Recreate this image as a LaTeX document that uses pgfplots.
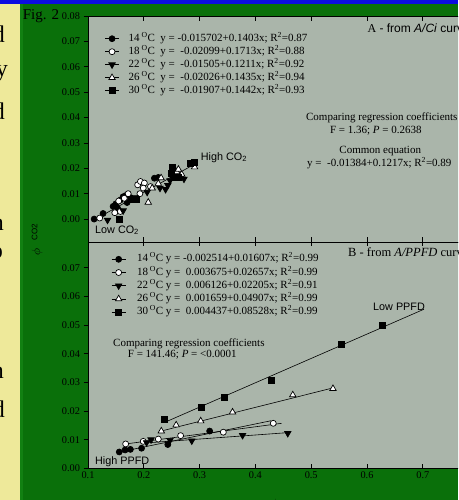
\documentclass[border=0pt]{standalone}
\usepackage{pgfplots}
\pgfplotsset{compat=1.18}
\usepackage{fontspec}
\setmainfont{Liberation Serif}
\setsansfont{Liberation Sans}
\definecolor{bggreen}{RGB}{10,112,10}
\definecolor{stripgreen}{RGB}{18,128,18}
\definecolor{paleyellow}{RGB}{238,233,154}
\definecolor{slideblue}{RGB}{12,12,225}
\definecolor{plotgray}{RGB}{170,181,170}
\pgfplotsset{
  panel/.style={
    scale only axis, width=390.6pt,
    xmin=0.1, xmax=0.8,
    xtick={0.1,0.2,0.3,0.4,0.5,0.6,0.7,0.8},
    scaled ticks=false,
    axis background/.style={fill=plotgray},
    axis line style={black, line width=0.7pt},
    every tick/.style={black, line width=0.7pt},
    major tick length=4.5pt,
    xtick align=inside, ytick align=outside,
    xtick pos=both, ytick pos=left,
    /pgf/number format/assume math mode=true,
    tick label style={font=\fontsize{10.3}{12}\selectfont},
    yticklabel style={/pgf/number format/fixed, /pgf/number format/fixed zerofill, /pgf/number format/precision=2},
    xticklabel style={/pgf/number format/fixed, /pgf/number format/precision=1},
    legend style={draw=none, fill=none, inner sep=0pt, outer sep=0pt,
      font=\fontsize{11}{13}\selectfont,
      nodes={inner sep=1pt, text height=7pt, text depth=2pt},
      row sep=2pt, column sep=8.3pt},
    legend cell align=left,
  },
  legmark/.style={only marks, line width=0.7pt,
    legend image code/.code={\path (0pt,0pt) -- (14pt,0pt); \draw[##1] plot coordinates {(7pt,0pt)};}},
  s14/.style={legmark, mark=*, mark size=3pt, draw=black, mark options={fill=black}},
  s18/.style={legmark, mark=*, mark size=3pt, draw=black, mark options={fill=white}},
  s22/.style={legmark, mark=triangle*, mark size=3.7pt, draw=black, mark options={rotate=180, fill=black}},
  s26/.style={legmark, mark=triangle*, mark size=3.7pt, draw=black, mark options={fill=white}},
  s30/.style={legmark, mark=square*, mark size=3pt, draw=black, mark options={fill=black}},
  rline/.style={black, line width=0.6pt, forget plot, no marks},
}
\begin{document}
\begin{tikzpicture}
\useasboundingbox (0,0) rectangle (458pt,-500pt);
\clip (0,0) rectangle (458pt,-500pt);
\fill[bggreen] (0,0) rectangle (458pt,-500pt);
\fill[stripgreen] (20pt,-4pt) rectangle (23pt,-500pt);
\fill[paleyellow] (0,-3pt) rectangle (20pt,-500pt);
\fill[slideblue] (0,0) rectangle (458pt,-4pt);
% slide text cut off on the left
\begin{scope}[every node/.style={anchor=base east, inner sep=0pt, font=\fontsize{24}{24}\selectfont}]
\node at (5pt,-43pt) {d};
\node at (8pt,-77pt) {y};
\node at (5pt,-120pt) {d};
\node at (4pt,-230pt) {n};
\node at (3pt,-258pt) {o};
\node at (4pt,-378pt) {n};
\node at (5pt,-417pt) {d};
\end{scope}

% ---------------- Panel A ----------------
\begin{axis}[panel, at={(88pt,-241.9pt)}, anchor=south west, height=225.9pt,
  ymin=-0.009, ymax=0.08,
  ytick={0,0.01,0.02,0.03,0.04,0.05,0.06,0.07,0.08},
  xticklabel=\empty,
  legend style={at={(0.04275,0.9239)}, anchor=north west}]
\addplot[rline] coordinates {(0.111,-0.0003) (0.295,0.0221)};
\addplot[s14] coordinates {(0.111,0.0000) (0.127,0.0022) (0.145,0.0050) (0.150,0.0060) (0.153,0.0043) (0.158,0.0075) (0.163,0.0088) (0.168,0.0093) (0.170,0.0065) (0.176,0.0085) (0.219,0.0161) (0.226,0.0164) (0.266,0.0168)};
\addplot[s18] coordinates {(0.121,0.0004) (0.148,0.0025) (0.158,0.0030) (0.155,0.0071) (0.165,0.0082) (0.172,0.0100) (0.189,0.0135) (0.194,0.0148) (0.201,0.0142) (0.199,0.0122) (0.193,0.0100) (0.212,0.0128)};
\addplot[s22] coordinates {(0.135,-0.0004) (0.163,0.0033) (0.185,0.0085) (0.206,0.0106) (0.229,0.0122) (0.239,0.0117) (0.243,0.0133) (0.247,0.0152) (0.250,0.0168) (0.272,0.0158)};
\addplot[s26] coordinates {(0.208,0.0066) (0.215,0.0122) (0.226,0.0140) (0.231,0.0162) (0.259,0.0186) (0.268,0.0176) (0.291,0.0205) (0.262,0.0196)};
\addplot[s30] coordinates {(0.156,0.0000) (0.180,0.0078) (0.187,0.0076) (0.252,0.0205) (0.250,0.0180) (0.255,0.0166) (0.262,0.0166) (0.284,0.0220) (0.291,0.0223)};
\legend{14\,\textsuperscript{O}C\ \ y = -0.015702+0.1403x; R\textsuperscript{2}=0.87,
        18\,\textsuperscript{O}C\ \ y = \ -0.02099+0.1713x; R\textsuperscript{2}=0.88,
        22\,\textsuperscript{O}C\ \ y = \ -0.01505+0.1211x; R\textsuperscript{2}=0.92,
        26\,\textsuperscript{O}C\ \ y = \ -0.02026+0.1435x; R\textsuperscript{2}=0.94,
        30\,\textsuperscript{O}C\ \ y = \ -0.01907+0.1442x; R\textsuperscript{2}=0.93}
\end{axis}

% ---------------- Panel B ----------------
\begin{axis}[panel, at={(88pt,-468.3pt)}, anchor=south west, height=226.4pt,
  ymin=0, ymax=0.079,
  ytick={0,0.01,0.02,0.03,0.04,0.05,0.06,0.07},
  legend style={at={(0.0597,0.9474)}, anchor=north west, column sep=10pt, row sep=2.2pt}]
\addplot[rline] coordinates {(0.157,0.0057) (0.428,0.0166)};
\addplot[rline] coordinates {(0.1675,0.0085) (0.447,0.0157)};
\addplot[rline] coordinates {(0.200,0.0088) (0.462,0.0125)};
\addplot[rline] coordinates {(0.231,0.0130) (0.540,0.0281)};
\addplot[rline] coordinates {(0.237,0.0160) (0.702,0.0555)};
\addplot[s14] coordinates {(0.156,0.0057) (0.1665,0.0064) (0.176,0.0066) (0.196,0.0070) (0.243,0.0083) (0.318,0.0130)};
\addplot[s18] coordinates {(0.1675,0.0085) (0.199,0.0094) (0.226,0.0102) (0.266,0.0114) (0.3425,0.0126) (0.432,0.0157)};
\addplot[s22] coordinates {(0.205,0.0090) (0.213,0.0100) (0.247,0.0098) (0.286,0.0096) (0.377,0.0115) (0.458,0.0122)};
\addplot[s26] coordinates {(0.2314,0.0130) (0.258,0.0151) (0.302,0.0165) (0.359,0.0196) (0.467,0.0256) (0.539,0.0278)};
\addplot[s30] coordinates {(0.237,0.0172) (0.304,0.0213) (0.344,0.0246) (0.428,0.0308) (0.554,0.0433) (0.628,0.0498)};
\legend{14\,\textsuperscript{O}C y = -0.002514+0.01607x; R\textsuperscript{2}=0.99,
        18\,\textsuperscript{O}C y = \ 0.003675+0.02657x; R\textsuperscript{2}=0.99,
        22\,\textsuperscript{O}C y = \ 0.006126+0.02205x; R\textsuperscript{2}=0.91,
        26\,\textsuperscript{O}C y = \ 0.001659+0.04907x; R\textsuperscript{2}=0.99,
        30\,\textsuperscript{O}C y = \ 0.004437+0.08528x; R\textsuperscript{2}=0.99}
\end{axis}

% ---------------- annotations ----------------
\node[anchor=base west, inner sep=0pt, font=\fontsize{15}{15}\selectfont] at (22.7pt,-20pt) {Fig. 2};
\begin{scope}[every node/.style={inner sep=0pt, font=\fontsize{11}{13}\selectfont}]
\node[anchor=base west, font=\fontsize{12}{13}\selectfont\sffamily] at (367.3pt,-33pt) {\textrm{A} - from \textit{A/Ci} curve};
\node[anchor=base] at (381.8pt,-121pt) {Comparing regression coefficients};
\node[anchor=base] at (375.8pt,-133pt) {F = 1.36; \textit{P} = 0.2638};
\node[anchor=base] at (380.2pt,-153pt) {Common equation};
\node[anchor=base west] at (307pt,-166.5pt) {y = \ -0.01384+0.1217x; R\textsuperscript{2}=0.89};
\node[anchor=base west, font=\fontsize{12.5}{13}\selectfont] at (348pt,-256pt) {B - from \textit{A/PPFD} curve};
\node[anchor=base west] at (113pt,-346pt) {Comparing regression coefficients};
\node[anchor=base west] at (127.7pt,-357.7pt) {F = 141.46; \textit{P} = <0.0001};
\end{scope}
\begin{scope}[every node/.style={inner sep=0pt, anchor=base west, font=\fontsize{10.8}{12}\selectfont\sffamily}]
\node at (200.7pt,-160pt) {High CO\textsubscript{2}};
\node at (95pt,-233pt) {Low CO\textsubscript{2}};
\node at (373pt,-310pt) {Low PPFD};
\node at (95pt,-464pt) {High PPFD};
\end{scope}
% axis labels
\node[rotate=90, inner sep=0pt, font=\fontsize{13}{13}\selectfont] at (37pt,-252pt) {$\phi$};
\node[rotate=90, inner sep=0pt, font=\fontsize{8}{8}\selectfont\sffamily] at (34.5pt,-232pt) {CO2};
\node[inner sep=0pt, font=\fontsize{13}{13}\selectfont] at (274pt,-504pt) {$\phi$};
\end{tikzpicture}
\end{document}
